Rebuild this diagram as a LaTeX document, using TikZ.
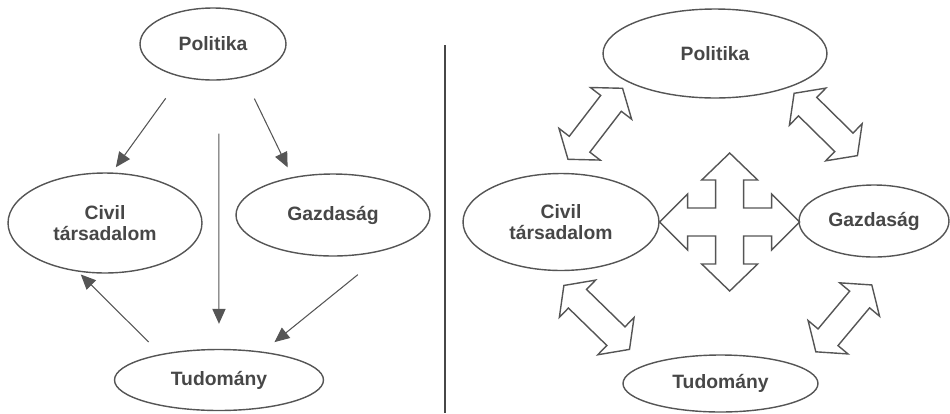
\documentclass[tikz,border=0pt]{standalone}
\usepackage{fontspec}
\setmainfont{Liberation Sans}
\usepackage{tikz}
\usetikzlibrary{shapes.geometric, arrows.meta, calc}

\definecolor{inkgray}{HTML}{555555}
\definecolor{textgray}{HTML}{474747}

% fat double arrow between two anchors, trimmed at both ends by #3 and #4
\newcommand{\fatdarrow}[4]{%
  \coordinate (fa) at ($(#1)!#3!(#2)$);
  \coordinate (fb) at ($(#2)!#4!(#1)$);
  \draw[fatline] (fa) -- ($(fa)!0.38cm!(fb)!0.52cm!90:(fb)$) -- ($(fa)!0.38cm!(fb)!0.26cm!90:(fb)$)
    -- ($(fb)!0.38cm!(fa)!0.26cm!270:(fa)$) -- ($(fb)!0.38cm!(fa)!0.52cm!270:(fa)$) -- (fb)
    -- ($(fb)!0.38cm!(fa)!0.52cm!90:(fa)$) -- ($(fb)!0.38cm!(fa)!0.26cm!90:(fa)$)
    -- ($(fa)!0.38cm!(fb)!0.26cm!270:(fb)$) -- ($(fa)!0.38cm!(fb)!0.52cm!270:(fb)$) -- cycle;
}

\begin{document}
\begin{tikzpicture}[x=0.02cm, y=-0.02cm,
    sphere/.style={draw=inkgray, line width=0.8pt, ellipse, inner sep=0pt, align=center,
      text=textgray, font=\bfseries\fontsize{11}{11.5}\selectfont},
    thinarrow/.style={draw=inkgray, line width=0.6pt, -{Triangle[length=8.5pt, width=7.5pt]}},
    fatline/.style={draw=inkgray, line width=0.8pt, line join=miter},
    divider/.style={draw=textgray, line width=1.2pt}]
    \useasboundingbox (0,0) rectangle (950,413);

    %% Left: one-way influence
    \node[sphere, minimum width=2.92cm, minimum height=1.44cm] (lpol) at (213, 44) {Politika};
    \node[sphere, minimum width=3.88cm, minimum height=2.0cm] (lciv) at (105, 223) {Civil\\társadalom};
    \node[sphere, minimum width=3.88cm, minimum height=1.64cm] (lgaz) at (333, 215) {Gazdaság};
    \node[sphere, minimum width=4.18cm, minimum height=1.22cm] (ltud) at (219, 380) {Tudomány};

    % Politika down to the other three
    \draw[thinarrow, shorten <=0.524cm, shorten >=0.128cm] (lpol.226.7) -- (lciv.82.9);
    \draw[thinarrow, shorten <=0.474cm, shorten >=0.216cm] (lpol.313) -- (lgaz.137.2);
    \draw[thinarrow, shorten <=1.06cm, shorten >=0.5cm] (lpol.279.5) -- (ltud.north);

    % Gazdasag -> Tudomany -> Civil
    \draw[thinarrow, shorten <=0.816cm, shorten >=0.302cm] (lgaz.329.6) -- (ltud.33);
    \draw[thinarrow, shorten <=0.34cm, shorten >=0.078cm] (ltud.156.9) -- (lciv.241.9);

    %% Divider
    \draw[divider] (445, 45) -- (445, 413);

    %% Right: mutual links
    \node[sphere, minimum width=4.48cm, minimum height=1.78cm] (rpol) at (715, 53.5) {Politika};
    \node[sphere, minimum width=3.92cm, minimum height=1.94cm] (rciv) at (561, 222) {Civil\\társadalom};
    \node[sphere, minimum width=3.0cm, minimum height=1.44cm] (rgaz) at (874, 221) {Gazdaság};
    \node[sphere, minimum width=3.9cm, minimum height=1.14cm] (rtud) at (720.5, 383.5) {Tudomány};

    % diagonal double arrows
    \fatdarrow{rciv.94.1}{rpol.198.3}{0.342cm}{0.16cm}
    \fatdarrow{rpol.335.4}{rgaz.70.2}{0.158cm}{0.834cm}
    \fatdarrow{rciv.256.1}{rtud.166.6}{0.42cm}{0.44cm}
    \fatdarrow{rtud.11.4}{rgaz.302.7}{0.41cm}{0.752cm}

    % four-way arrow in the middle
    \draw[fatline] (rciv.east) -- ++(28,-28) -- ++(0,14) -- ++(28,0) -- ++(0,-28) -- ++(-14,0)
      -- ++(28,-27) -- ++(28,27) -- ++(-14,0) -- ++(0,28) -- ++(28,0) -- ++(0,-14)
      -- ++(28,28) -- ++(-28,28) -- ++(0,-14) -- ++(-28,0) -- ++(0,28) -- ++(14,0)
      -- ++(-28,27) -- ++(-28,-27) -- ++(14,0) -- ++(0,-28) -- ++(-28,0) -- ++(0,14) -- cycle;
\end{tikzpicture}
\end{document}
